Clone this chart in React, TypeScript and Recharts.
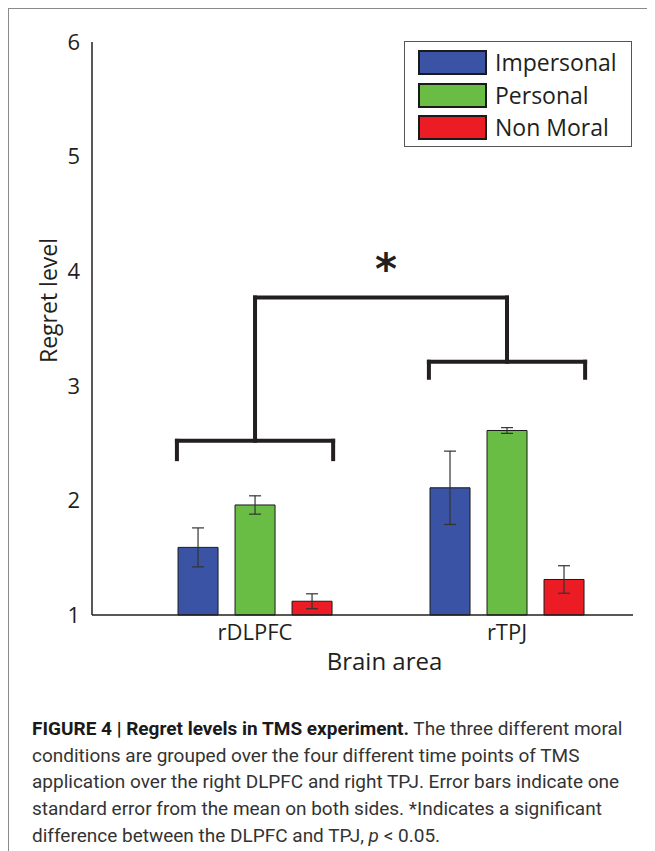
import React from 'react'
import {
  Bar,
  ComposedChart,
  ErrorBar,
  Legend,
  ReferenceDot,
  ReferenceLine,
  XAxis,
  YAxis,
} from 'recharts'

// values (regret level, 1-6 scale)
const categories = ['rDLPFC', 'rTPJ']
const positions = [1, 2]
const impersonal = [1.59, 2.11]
const impersonalErr = [0.17, 0.32]
const personal = [1.96, 2.61]
const personalErr = [0.08, 0.025]
const nonMoral = [1.12, 1.31]
const nonMoralErr = [0.065, 0.12]
const yTicks = [1, 2, 3, 4, 5, 6]

// significance brackets, x in group units (rDLPFC = 1, rTPJ = 2)
const bracketHalfSpan = 0.31
const bracketLevels = [2.52, 3.21]
const bracketTips = [2.36, 3.07]
const bridgeLevel = 3.77
const starX = 1.52
const starY = 4.03

const series = [
  { key: 'impersonal', err: 'impersonalErr', name: 'Impersonal', color: '#3a53a4' },
  { key: 'personal', err: 'personalErr', name: 'Personal', color: '#69bd45' },
  { key: 'nonMoral', err: 'nonMoralErr', name: 'Non Moral', color: '#ec1c24' },
]

const data = categories.map((c, i) => ({
  area: c,
  pos: positions[i],
  impersonal: impersonal[i],
  impersonalErr: impersonalErr[i],
  personal: personal[i],
  personalErr: personalErr[i],
  nonMoral: nonMoral[i],
  nonMoralErr: nonMoralErr[i],
}))

const FONT = '"Open Sans", "Noto Sans", sans-serif'
const INK = '#231f20'
// x domain in group units so the groups sit where the figure has them
const X_DOMAIN = [0.353, 2.5]

function LegendBox() {
  return (
    <div
      style={{
        width: 228,
        height: 106,
        boxSizing: 'border-box',
        border: '1px solid #555',
        background: '#fff',
        padding: '8px 0 0 13px',
        fontFamily: FONT,
        color: INK,
      }}
    >
      {series.map((s) => (
        <div
          key={s.key}
          style={{ display: 'flex', alignItems: 'center', height: 25, marginBottom: 7.5 }}
        >
          <div
            style={{
              width: 69,
              height: 25,
              boxSizing: 'border-box',
              background: s.color,
              border: '2px solid #1a1a1a',
              marginRight: 8,
            }}
          />
          <span style={{ fontSize: 23, lineHeight: '25px' }}>{s.name}</span>
        </div>
      ))}
    </div>
  )
}

function YTitle(props: any) {
  const vb = props.viewBox || { x: 0, y: 0, width: 0, height: 0 }
  const x = vb.x + 16
  const y = vb.y + vb.height / 2 - 28
  return (
    <text
      x={x}
      y={y}
      transform={`rotate(-90, ${x}, ${y})`}
      textAnchor="middle"
      dominantBaseline="central"
      fontFamily={FONT}
      fontSize={23}
      fill={INK}
    >
      Regret level
    </text>
  )
}

function XTitle(props: any) {
  const vb = props.viewBox || { x: 0, y: 0, width: 0, height: 0 }
  return (
    <text
      x={vb.x + vb.width / 2 + 22}
      y={vb.y + 45}
      textAnchor="middle"
      dominantBaseline="central"
      fontFamily={FONT}
      fontSize={24}
      fill={INK}
    >
      Brain area
    </text>
  )
}

function Star(props: any) {
  const vb = props.viewBox || { x: 0, y: 0, width: 0, height: 0 }
  return (
    <text
      x={vb.x + vb.width / 2}
      y={vb.y + vb.height / 2 + 16}
      textAnchor="middle"
      fontFamily="DejaVu Sans"
      fontWeight="bold"
      fontSize={42}
      fill={INK}
    >
      *
    </text>
  )
}

const bracketStroke = { stroke: INK, strokeWidth: 4, strokeLinecap: 'square' as const }

export default function App() {
  return (
    <div
      style={{
        borderTop: '1px solid #8a8a8a',
        borderLeft: '1px solid #8a8a8a',
        height: 843,
        boxSizing: 'border-box',
        background: '#fff',
      }}
    >
      <ComposedChart
        width={638}
        height={690}
        data={data}
        margin={{ top: 33, right: 14, left: 23, bottom: 24 }}
        barSize={40}
        barGap={17}
      >
        <XAxis
          dataKey="pos"
          type="number"
          domain={X_DOMAIN}
          allowDataOverflow
          ticks={positions}
          tickFormatter={(v: number) => categories[positions.indexOf(v)] ?? ''}
          height={60}
          tickLine={false}
          tickMargin={3}
          axisLine={{ stroke: INK, strokeWidth: 1.5 }}
          tick={{ fill: INK, fontSize: 22, fontFamily: FONT }}
          label={<XTitle />}
        />
        <YAxis
          domain={[1, 6]}
          ticks={yTicks}
          width={60}
          tickLine={false}
          tickMargin={6}
          axisLine={{ stroke: INK, strokeWidth: 1.5 }}
          tick={{ fill: INK, fontSize: 22, fontFamily: FONT }}
          label={<YTitle />}
        />
        <Legend
          layout="vertical"
          align="center"
          verticalAlign="middle"
          wrapperStyle={{ position: 'absolute', left: 395, top: 32, width: 228, height: 106 }}
          content={() => <LegendBox />}
        />
        {series.map((s) => (
          <Bar
            key={s.key}
            dataKey={s.key}
            name={s.name}
            fill={s.color}
            stroke="#1a1a1a"
            strokeWidth={1}
            isAnimationActive={false}
          >
            <ErrorBar dataKey={s.err} width={6} stroke="#333" strokeWidth={1.2} />
          </Bar>
        ))}
        {positions.map((c, i) => (
          <React.Fragment key={`br-${i}`}>
            <ReferenceLine
              segment={[
                { x: c - bracketHalfSpan, y: bracketLevels[i] },
                { x: c + bracketHalfSpan, y: bracketLevels[i] },
              ]}
              {...bracketStroke}
            />
            <ReferenceLine
              segment={[
                { x: c - bracketHalfSpan, y: bracketLevels[i] },
                { x: c - bracketHalfSpan, y: bracketTips[i] },
              ]}
              {...bracketStroke}
            />
            <ReferenceLine
              segment={[
                { x: c + bracketHalfSpan, y: bracketLevels[i] },
                { x: c + bracketHalfSpan, y: bracketTips[i] },
              ]}
              {...bracketStroke}
            />
            <ReferenceLine
              segment={[
                { x: c, y: bracketLevels[i] },
                { x: c, y: bridgeLevel },
              ]}
              {...bracketStroke}
            />
          </React.Fragment>
        ))}
        <ReferenceLine
          segment={[
            { x: positions[0], y: bridgeLevel },
            { x: positions[1], y: bridgeLevel },
          ]}
          {...bracketStroke}
        />
        <ReferenceDot x={starX} y={starY} r={1} fill="none" stroke="none" label={<Star />} />
      </ComposedChart>
      <div
        style={{
          margin: '17px 0 0 23px',
          fontFamily: 'Roboto, sans-serif',
          fontSize: 19,
          lineHeight: '26.7px',
          color: '#333',
          whiteSpace: 'nowrap',
        }}
      >
        <b style={{ color: '#1a1a1a' }}>FIGURE 4 | Regret levels in TMS experiment.</b> The three
        different moral
        <br />
        conditions are grouped over the four different time points of TMS
        <br />
        application over the right DLPFC and right TPJ. Error bars indicate one
        <br />
        standard error from the mean on both sides. *Indicates a significant
        <br />
        difference between the DLPFC and TPJ, <i>p</i> &lt; 0.05.
      </div>
    </div>
  )
}
